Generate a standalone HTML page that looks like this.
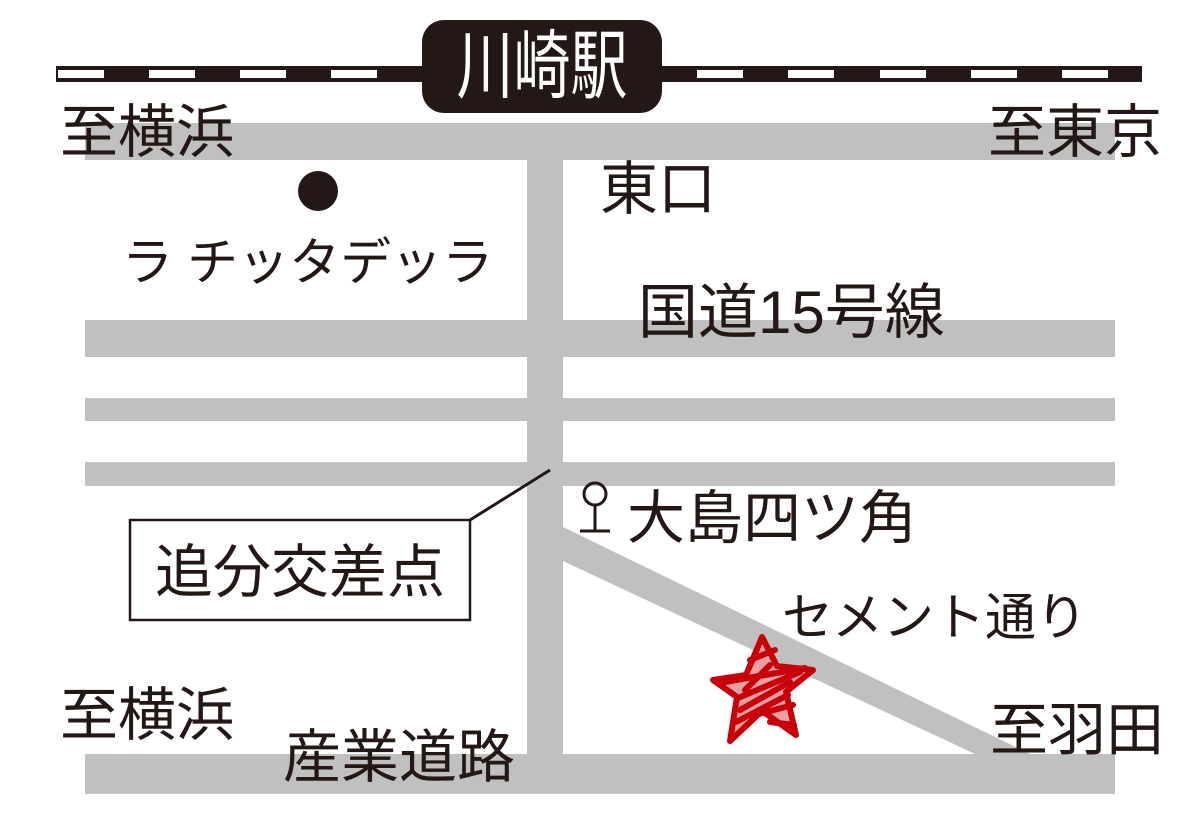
<!DOCTYPE html>
<html><head><meta charset="utf-8"><style>
body{margin:0;background:#fff;}
svg{display:block}
text{font-family:"Liberation Sans","Noto Sans CJK JP",sans-serif;fill:#231815;font-size:58px;}
</style></head><body>
<svg width="1200" height="814" viewBox="0 0 1200 814">
<g fill="#c0c0c0">
<rect x="85" y="123" width="1030" height="37"/>
<rect x="527" y="123" width="36" height="671"/>
<rect x="85" y="320" width="1030" height="37"/>
<rect x="85" y="398" width="1030" height="23"/>
<rect x="85" y="462" width="1030" height="24"/>
<rect x="85" y="754" width="1030" height="40"/>
</g>
<polygon points="563,527 563,561 975,754 1030,754" fill="#c0c0c0"/>
<rect x="56" y="66" width="1086" height="16" fill="#231815"/>
<g fill="#fff">
<rect x="58" y="70" width="46" height="8"/><rect x="149" y="70" width="46" height="8"/><rect x="240" y="70" width="46" height="8"/><rect x="331" y="70" width="46" height="8"/>
<rect x="697" y="70" width="46" height="8"/><rect x="788" y="70" width="46" height="8"/><rect x="880" y="70" width="46" height="8"/><rect x="971" y="70" width="46" height="8"/><rect x="1062" y="70" width="46" height="8"/>
</g>
<rect x="422" y="20" width="240" height="93" rx="22" fill="#231815"/>
<text transform="translate(542,92) scale(0.95,1.25)" text-anchor="middle" style="fill:#fff;font-size:60px">川崎駅</text>
<text x="60" y="152">至横浜</text>
<text x="988" y="152">至東京</text>
<circle cx="318" cy="191" r="20" fill="#231815"/>
<text x="122" y="280" style="font-size:51px">ラ チッタデッラ</text>
<text x="600" y="209">東口</text>
<text x="638" y="333" style="font-size:60px">国道15号線</text>
<circle cx="595" cy="494" r="11" fill="none" stroke="#231815" stroke-width="3"/>
<line x1="595" y1="505" x2="595" y2="531" stroke="#231815" stroke-width="3"/>
<line x1="580" y1="531" x2="610" y2="531" stroke="#231815" stroke-width="3"/>
<text x="627" y="538">大島四ツ角</text>
<line x1="470" y1="520" x2="550" y2="470" stroke="#231815" stroke-width="3"/>
<rect x="130" y="520" width="340" height="100" fill="#fff" stroke="#231815" stroke-width="2.5"/>
<text x="300" y="592" text-anchor="middle">追分交差点</text>
<text x="782" y="635" style="font-size:51px">セメント通り</text>
<text x="60" y="735">至横浜</text>
<text x="283" y="777">産業道路</text>
<text x="990" y="750">至羽田</text>
<polygon points="762,637 777,666 813,670 786,692 796,735 762,711 730,741 737,697 713,680 746,675" fill="#e8a0a0"/>
<g stroke="#c8000a" stroke-width="6" stroke-linejoin="round" fill="none" stroke-linecap="round">
<polygon points="762,637 777,666 813,670 786,692 796,735 762,711 730,741 737,697 713,680 746,675"/>
<line x1="725" y1="682" x2="805" y2="668"/>
<line x1="738" y1="698" x2="800" y2="672"/>
<line x1="740" y1="710" x2="790" y2="682"/>
<line x1="736" y1="722" x2="788" y2="695"/>
<line x1="750" y1="660" x2="775" y2="650"/>
<line x1="755" y1="715" x2="793" y2="705"/>
<line x1="770" y1="722" x2="794" y2="725"/>
<line x1="745" y1="690" x2="770" y2="665"/>
</g>
</svg>
</body></html>
